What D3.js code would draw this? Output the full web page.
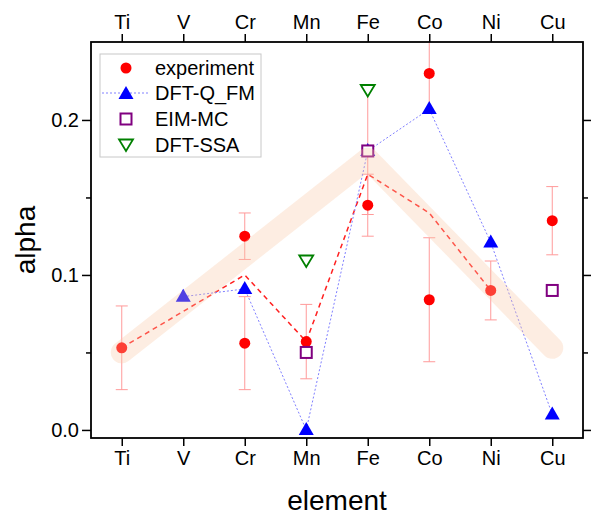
<!DOCTYPE html>
<html><head><meta charset="utf-8">
<script src="https://cdn.jsdelivr.net/npm/d3@7"></script>
<style>body{margin:0;background:#fff}svg text{font-family:"Liberation Sans",Arial,sans-serif}</style>
</head><body><svg id="c" width="594" height="518"></svg>
<script>
const elements = ["Ti","V","Cr","Mn","Fe","Co","Ni","Cu"];
const yTicks = [0.0, 0.1, 0.2];
const yMinorTicks = [0.05, 0.15];

const expElem = ["Ti","Cr","Cr","Mn","Fe","Fe","Co","Co","Ni","Cu"];
const expVal  = [0.053,0.125,0.056,0.057,0.145,0.180,0.230,0.084,0.090,0.135];
const expErr  = [0.027,0.015,0.030,0.024,0.020,0.041,0.025,0.040,0.019,0.022];

const avgElem = ["Ti","Cr","Mn","Fe","Co","Ni"];
const avgVal  = [0.053,0.100,0.057,0.165,0.140,0.090];

const qfmElem = ["V","Cr","Mn","Fe","Co","Ni","Cu"];
const qfmVal  = [0.086,0.091,0.000,0.180,0.207,0.121,0.010];

const eimElem = ["Mn","Fe","Cu"];
const eimVal  = [0.050,0.180,0.090];

const ssaElem = ["Mn","Fe"];
const ssaVal  = [0.109,0.219];

const bandElem = ["Ti","Fe","Cu"];
const bandVal  = [0.050,0.175,0.053];

(function(){
const L=91,R=583,T=42,B=438;
const svg=d3.select("#c");
const x=d3.scalePoint().domain(elements).range([L,R]).padding(0.5);
const y=d3.scaleLinear().domain([-0.0052,0.2503]).range([B,T]);

svg.append("defs").append("clipPath").attr("id","clip").append("rect")
  .attr("x",L).attr("y",T).attr("width",R-L).attr("height",B-T);
const g=svg.append("g").attr("clip-path","url(#clip)");

// error bars
const eb=g.append("g").attr("stroke","#ff9a9a").attr("stroke-width",1);
expVal.forEach((v,i)=>{
  const cx=x(expElem[i]), y1=y(v+expErr[i]), y2=y(v-expErr[i]);
  eb.append("line").attr("x1",cx).attr("x2",cx).attr("y1",y1).attr("y2",y2);
  eb.append("line").attr("x1",cx-6).attr("x2",cx+6).attr("y1",y1).attr("y2",y1);
  eb.append("line").attr("x1",cx-6).attr("x2",cx+6).attr("y1",y2).attr("y2",y2);
});

// average dashed line
g.append("path").attr("fill","none").attr("stroke","#ff2020").attr("stroke-width",1.5)
  .attr("stroke-dasharray","5,4")
  .attr("d",d3.line().x((d,i)=>x(avgElem[i])).y(d=>y(d))(avgVal));

// DFT-Q_FM dotted line
g.append("path").attr("fill","none").attr("stroke","#8080ff").attr("stroke-width",1)
  .attr("stroke-dasharray","2,2")
  .attr("d",d3.line().x((d,i)=>x(qfmElem[i])).y(d=>y(d))(qfmVal));

const triUp=(cx,cy)=>`M${cx},${cy-8}L${cx+7.5},${cy+5}L${cx-7.5},${cy+5}Z`;
const triDown=(cx,cy)=>`M${cx-7},${cy-5.5}L${cx+7},${cy-5.5}L${cx},${cy+6}Z`;

// experiment circles
g.selectAll(".ec").data(expVal).enter().append("circle")
  .attr("cx",(d,i)=>x(expElem[i])).attr("cy",d=>y(d)).attr("r",5.5).attr("fill","#ff0000");
// qfm triangles
g.selectAll(".qt").data(qfmVal).enter().append("path")
  .attr("d",(d,i)=>triUp(x(qfmElem[i]),y(d))).attr("fill","#0000ff");
// eim squares
g.selectAll(".es").data(eimVal).enter().append("rect")
  .attr("x",(d,i)=>x(eimElem[i])-5.5).attr("y",d=>y(d)-5.5).attr("width",11).attr("height",11)
  .attr("fill","#fff").attr("stroke","#800080").attr("stroke-width",2);
// ssa down triangles
g.selectAll(".st").data(ssaVal).enter().append("path")
  .attr("d",(d,i)=>triDown(x(ssaElem[i]),y(d))).attr("fill","#fff")
  .attr("stroke","#008000").attr("stroke-width",1.8);

// band on top
g.append("path").attr("fill","none").attr("stroke","rgb(248,200,165)").attr("stroke-opacity",0.32)
  .attr("stroke-width",22).attr("stroke-linecap","round").attr("stroke-linejoin","round")
  .attr("d",d3.line().x((d,i)=>x(bandElem[i])).y(d=>y(d))(bandVal));

// axes
const fs=20;
const ax=svg.append("g");
ax.append("g").attr("transform",`translate(0,${B})`)
  .call(d3.axisBottom(x).tickSize(8).tickPadding(5));
ax.append("g").attr("transform",`translate(0,${T})`)
  .call(d3.axisTop(x).tickSize(8).tickPadding(5));
ax.append("g").attr("transform",`translate(${L},0)`)
  .call(d3.axisLeft(y).tickValues(yTicks).tickFormat(d3.format(".1f")).tickSize(9).tickPadding(3));
ax.append("g").attr("transform",`translate(${R},0)`)
  .call(d3.axisRight(y).tickValues(yTicks).tickFormat("").tickSize(8));
ax.append("g").attr("transform",`translate(${L},0)`)
  .call(d3.axisLeft(y).tickValues(yMinorTicks).tickFormat("").tickSize(5));
ax.append("g").attr("transform",`translate(${R},0)`)
  .call(d3.axisRight(y).tickValues(yMinorTicks).tickFormat("").tickSize(5));
ax.selectAll(".domain").remove();
ax.selectAll("line").attr("stroke","#000").attr("stroke-width",1.5);
ax.selectAll("text").attr("font-size",fs).attr("fill","#000")
  .attr("font-family","Liberation Sans, Arial, sans-serif");
svg.append("rect").attr("x",L).attr("y",T).attr("width",R-L).attr("height",B-T)
  .attr("fill","none").attr("stroke","#000").attr("stroke-width",1.8);

// titles
svg.append("text").attr("x",(L+R)/2).attr("y",510).attr("text-anchor","middle")
  .attr("font-size",28).text("element");
svg.append("text").attr("transform",`translate(35,${(T+B)/2}) rotate(-90)`)
  .attr("text-anchor","middle").attr("font-size",28).text("alpha");

// legend
const lg=svg.append("g");
lg.append("rect").attr("x",100).attr("y",54).attr("width",161).attr("height",103)
  .attr("fill","#fff").attr("stroke","#c8c8c8").attr("stroke-width",1);
const names=["experiment","DFT-Q_FM","EIM-MC","DFT-SSA"];
const ly=[68,93,119,145];
const sx=126;
lg.append("circle").attr("cx",sx).attr("cy",ly[0]).attr("r",5.5).attr("fill","#ff0000");
lg.append("line").attr("x1",102).attr("x2",148).attr("y1",ly[1]).attr("y2",ly[1])
  .attr("stroke","#8080ff").attr("stroke-dasharray","2,2");
lg.append("path").attr("d",triUp(sx,ly[1]+1)).attr("fill","#0000ff");
lg.append("rect").attr("x",sx-5.5).attr("y",ly[2]-5.5).attr("width",11).attr("height",11)
  .attr("fill","#fff").attr("stroke","#800080").attr("stroke-width",2);
lg.append("path").attr("d",triDown(sx,ly[3])).attr("fill","#fff")
  .attr("stroke","#008000").attr("stroke-width",1.8);
names.forEach((n,i)=>lg.append("text").attr("x",155).attr("y",ly[i]+7)
  .attr("font-size",fs).text(n));
})();
</script></body></html>
